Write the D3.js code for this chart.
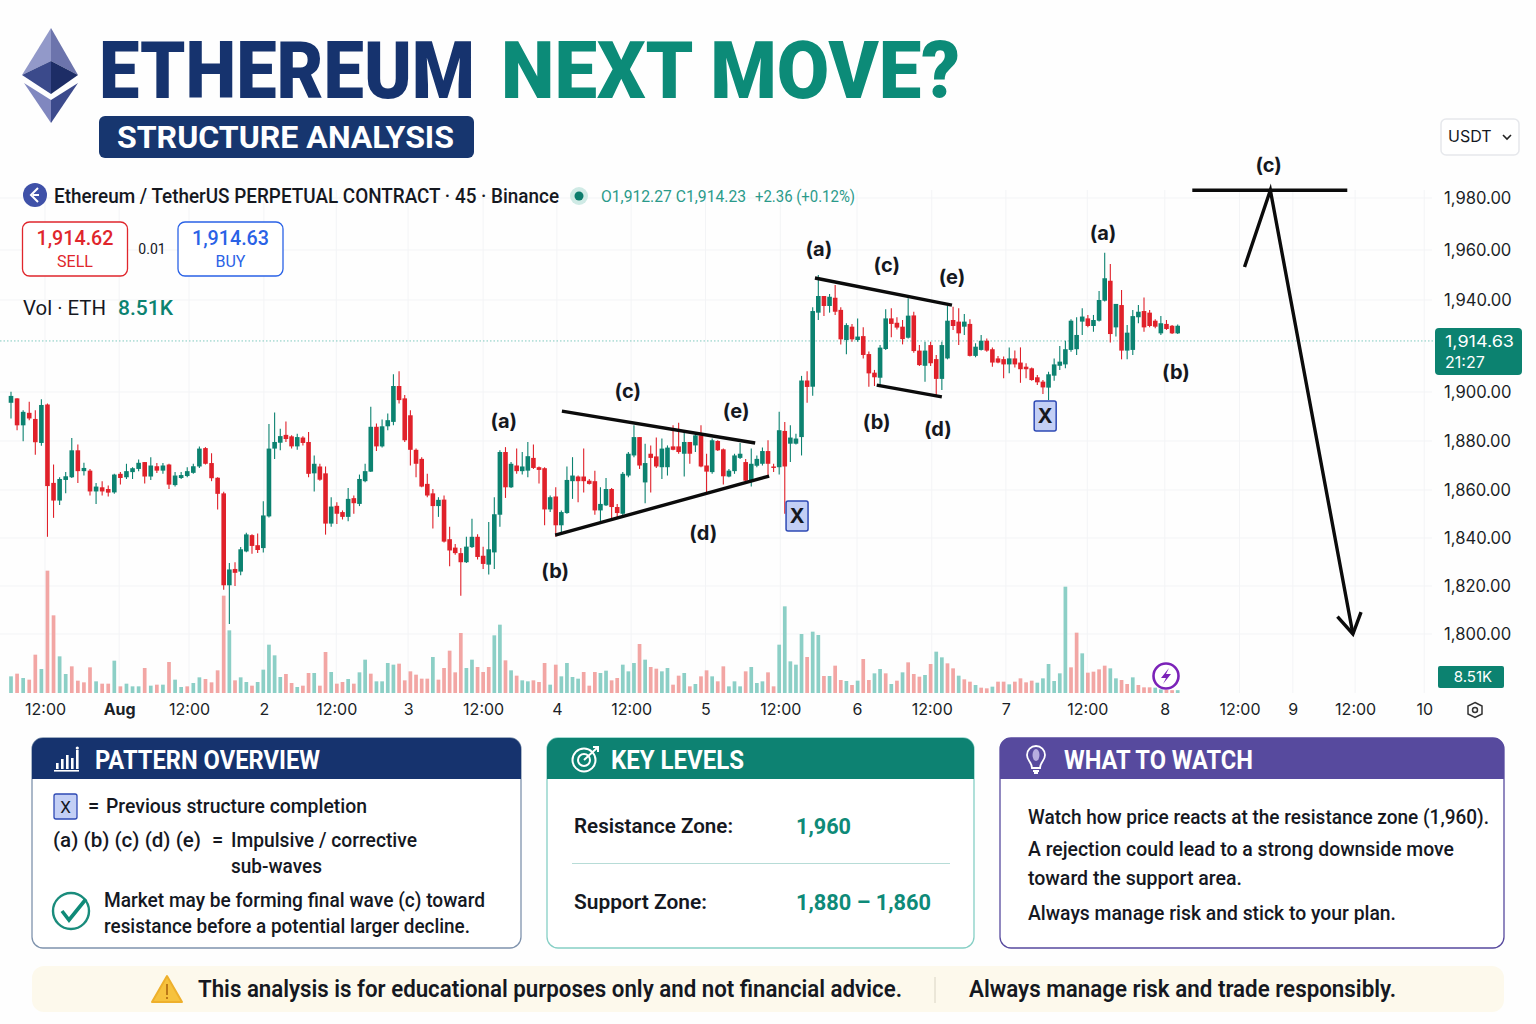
<!DOCTYPE html>
<html>
<head>
<meta charset="utf-8">
<title>Ethereum Next Move?</title>
<script src="https://cdn.jsdelivr.net/npm/d3@7"></script>
<style>
  html, body { margin: 0; padding: 0; background: #fff; }
  svg { display: block; font-family: Roboto, sans-serif; }
</style>
</head>
<body>
<div id="chart"></div>
<script>
// 45 minute candles
const opens = [
  1895.6,1897.4,1886.4,1891.5,1889,1879.2,1894.9,1862.9,1855.6,1864.1,
  1865.2,1876.2,1867.7,1867.9,1859.4,1861.1,1860.4,1859,1866.6,1865.2,
  1867.3,1868.6,1871.4,1865.5,1869.7,1867.9,1870.4,1862,1864.9,1865.7,
  1867,1869.6,1877.1,1871,1865,1858.6,1820.3,1827.1,1826,1834.4,
  1841.2,1837,1835.8,1849,1876.9,1879.3,1882.5,1881.9,1877.8,1881.4,
  1879.6,1866.8,1869.6,1866.8,1846,1853.4,1850.8,1848.8,1856.6,1854.2,
  1863.6,1867.5,1885.8,1877.8,1886,1887.8,1902.6,1897.4,1890.5,1876.4,
  1872.7,1862.5,1858.6,1853.3,1856,1839.5,1836,1833.7,1829.9,1836.2,
  1840.5,1832.6,1828.9,1834,1849.7,1875.5,1861.1,1870,1867.7,1867.9,
  1873.1,1869.3,1868.9,1851.9,1857.3,1845.3,1850.4,1863.6,1865.5,1865.5,
  1863.8,1863.6,1851.5,1853.6,1860.4,1852.9,1850.1,1865.9,1874.1,1881.6,
  1863.1,1874.8,1873.7,1869.3,1869.3,1877.8,1877.8,1874.8,1879.6,1878.2,
  1882.3,1870,1867.3,1880,1876.6,1865.5,1867.7,1873.1,1871.4,1863.6,
  1869.9,1870.7,1875.9,1869.6,1869.3,1884.1,1878.9,1878.9,1881.6,1905,
  1902.3,1934.5,1941.6,1937.4,1940.9,1935.7,1922.6,1928.4,1922.6,1924.3,
  1916.5,1908.4,1906.2,1918.7,1932,1930.1,1928.4,1923.6,1933.3,1918,
  1911.4,1920.4,1914.3,1905.7,1914.6,1931.3,1930.6,1928.4,1929.6,1915.7,
  1918.3,1922.3,1918.6,1914.6,1914.3,1912,1914.6,1912.8,1911,1910.3,
  1906.4,1904.5,1901.9,1907.1,1911.4,1912,1918.3,1918.6,1930.6,1932,
  1928.7,1931,1939.7,1947.7,1928.1,1937.8,1918,1918.3,1932.5,1935.2,
  1934.5,1931,1925.5,1929.6,1928.8,1925.5
];
const highs = [
  1900.1,1897.4,1892.6,1896,1892.6,1897,1895.3,1870.4,1865.2,1867.3,
  1881.2,1878.6,1871.1,1868.6,1862.9,1863.6,1861.8,1866.6,1867.3,1870.7,
  1869.3,1872.4,1871.4,1873.4,1871,1871,1870.7,1867.3,1867.3,1869.3,
  1870.7,1877.8,1877.5,1875,1865.2,1859.3,1829.6,1829.9,1836.2,1842.2,
  1841.6,1841.9,1855.3,1886.9,1891.6,1885,1888,1882.3,1883,1881.9,
  1883.7,1874.1,1870.7,1869.6,1857,1854.9,1851.5,1860.8,1857.7,1866.3,
  1870.7,1894,1887.1,1888.8,1891.2,1907.7,1909,1898.8,1892.6,1876.9,
  1873.4,1866.6,1860.4,1857,1857.7,1844.7,1837.5,1835.8,1840.5,1848,
  1841.6,1836.4,1846.7,1857,1876.2,1877.5,1871.4,1876.9,1875.5,1879.6,
  1878.6,1869.6,1869.3,1857.7,1861.1,1851.5,1869.6,1873.4,1865.9,1876.9,
  1864.5,1867.9,1861.1,1864.9,1860.8,1854.2,1867.3,1875.5,1886.4,1881.6,
  1878.9,1878.2,1881.4,1881,1878.2,1886.4,1887.4,1883.7,1879.6,1883.7,
  1886.4,1874.8,1881,1880.3,1876.9,1868.6,1874.8,1879.2,1872.7,1876.9,
  1874.1,1877.3,1880.3,1870.7,1891.9,1887.8,1886.4,1883,1907,1909,
  1936.8,1950,1941.6,1942.4,1946,1936.8,1929.9,1929.6,1932,1928.1,
  1917.6,1909.6,1920.4,1936,1936.4,1932.5,1931.3,1940.7,1934.9,1920.4,
  1921.9,1921.9,1916.1,1921.9,1937.4,1937.1,1936.4,1933.9,1931.6,1921.2,
  1924.8,1923.3,1919.4,1915.7,1915.4,1919.4,1918,1919.4,1912.5,1910.7,
  1907.4,1905.2,1908.8,1914.6,1920,1922.3,1931.6,1932.5,1936.4,1933.5,
  1933.5,1943.6,1958.9,1954.4,1938.3,1944,1929.1,1935.7,1937.8,1941,
  1935.7,1931.6,1933,1931.3,1929.1,1929.4
];
const lows = [
  1889.2,1884.4,1879.9,1888.5,1874.4,1878.1,1840.5,1848.4,1853.8,1858.6,
  1864.9,1862.9,1865.9,1857.7,1854.2,1857.7,1857.3,1858.4,1862.2,1864.5,
  1864.5,1867.7,1862.7,1864.1,1866.9,1866.6,1860.4,1861.4,1864.5,1865.2,
  1866.6,1869,1870.4,1863.6,1851.9,1818.4,1804.2,1820,1824.5,1834.1,
  1833.4,1833.7,1834,1848.5,1872.7,1876.2,1879.6,1876.9,1876.4,1878.2,
  1865.2,1859.4,1863.8,1841.4,1844.7,1845.8,1847.7,1847,1850.1,1853.3,
  1863.2,1867.3,1875.9,1877.3,1884.4,1886.4,1895.3,1879.6,1870,1865.2,
  1861.1,1857,1844,1848.8,1838.1,1828.2,1833,1815.9,1829.6,1835.8,
  1831,1827.1,1824.8,1827.1,1844.7,1856.7,1860.8,1866.6,1866.3,1865.2,
  1868.6,1862.7,1845.3,1850.8,1840.5,1841.2,1850.1,1856.3,1854.9,1859,
  1862.2,1849.7,1847,1853.3,1848,1848,1849.4,1865.2,1873.4,1868.6,
  1854.5,1859,1869,1864.5,1865.9,1876.2,1874.8,1865.5,1870.7,1875.5,
  1869.3,1859,1866.6,1875.9,1862.2,1865.2,1866.6,1872.7,1863.6,1861.4,
  1869.3,1870,1865.9,1867.3,1866.3,1850.1,1871.4,1878.6,1874.1,1895.6,
  1898.5,1931.3,1933,1934.5,1933.5,1920.7,1916.4,1921.9,1921.9,1914.6,
  1902.3,1902.6,1903,1918.3,1923.8,1927.2,1920.7,1923.3,1917.1,1911.3,
  1904.5,1911.3,1898.5,1900.9,1914.2,1927,1920.4,1924.8,1915.4,1915.1,
  1918,1917.5,1911,1912.5,1906,1908.1,1910.7,1904,1906,1904.9,
  1903,1899.2,1896.7,1904.9,1909.6,1910.3,1917.5,1916.1,1924.8,1928.1,
  1926.2,1930.6,1939.3,1921.5,1924.1,1914.2,1914.2,1916.1,1929.9,1926.2,
  1928.1,1927.7,1924.8,1927,1925.2,1925.2
];
const closes = [
  1898.4,1886.4,1891.9,1889.2,1879.5,1894.7,1861.6,1855.6,1864.5,1865.6,
  1876.2,1867.7,1869,1859.4,1861.4,1859.4,1858.9,1866.3,1864.9,1867.7,
  1868.9,1871.1,1865.5,1870,1867.9,1870,1862.2,1865.9,1866.1,1867.7,
  1869.7,1876.9,1870.7,1864.8,1858.4,1820.3,1826.9,1825.5,1835.3,1841.5,
  1836.7,1835,1849.4,1876.9,1879.6,1882,1880.8,1877.8,1881.6,1879.2,
  1866.6,1870.7,1864.2,1846,1853.1,1850.1,1848.8,1856.3,1854.5,1864.5,
  1867.7,1885.8,1877.8,1886,1888.5,1902.6,1896.7,1880.3,1876.4,1870.7,
  1861.4,1857.7,1853.3,1855.9,1838.5,1834.8,1833.7,1829.9,1836.4,1840.5,
  1832.1,1829.2,1835.3,1849.9,1875.5,1861.1,1870.7,1867.7,1869.6,1873.8,
  1869,1868.2,1851.9,1857,1845.3,1850.8,1864.1,1865.9,1863.6,1863.6,
  1862.5,1851.5,1854.2,1860.4,1852.9,1850.4,1866.6,1874.8,1881.6,1870,
  1871,1873.1,1869.6,1876.9,1877.3,1876.4,1875.5,1879.6,1874.8,1882.3,
  1869.6,1867.5,1880.3,1876.2,1865.6,1867.9,1874.1,1874.8,1863.8,1870.7,
  1872.7,1875.9,1870.7,1869,1884.4,1869.6,1881.4,1881,1905,1902.2,
  1935.2,1941.6,1937.4,1941.3,1934.9,1922.9,1929.1,1922.9,1924.1,1916.1,
  1908.1,1906.4,1919.3,1932,1929.6,1928,1923,1933.2,1917.8,1911.7,
  1918,1912.5,1905.7,1920.4,1931,1928.7,1925.5,1930.6,1915.7,1919.7,
  1922.3,1918,1912.8,1912.8,1912,1914.6,1912,1909.9,1909.9,1905.2,
  1904.2,1902,1907.7,1912,1913.2,1918.6,1931,1924.8,1932.8,1928.7,
  1931.3,1940,1948.7,1925.2,1938.3,1918,1925.8,1933,1934.9,1928.1,
  1928.7,1928.4,1929.9,1927.4,1925.5,1928.8
];
// volume in K, and its side, which does not always follow the candle above it
const volumes = [
  50,58,45,40,115,72,367,233,110,57,
  80,37,32,77,35,28,28,97,20,28,
  20,20,75,22,25,25,93,40,18,20,
  30,47,42,32,68,292,188,38,47,33,
  22,33,70,145,113,48,57,30,18,22,
  60,60,22,123,63,28,33,42,28,62,
  100,58,35,35,90,85,88,38,65,55,
  43,43,108,40,75,127,62,180,75,100,
  78,63,78,173,205,98,68,52,38,35,
  38,33,90,25,85,50,90,48,43,63,
  22,63,60,67,38,45,85,65,90,147,
  100,78,73,65,75,25,52,60,20,27,
  50,68,50,35,80,20,35,20,65,78,
  30,35,62,20,145,260,95,85,177,108,
  184,174,51,51,82,39,36,24,37,102,
  39,59,72,59,27,37,62,92,57,49,
  54,87,124,107,89,74,52,41,34,24,
  16,14,19,34,34,26,34,44,32,37,
  31,44,87,36,59,319,77,181,119,61,
  64,71,82,74,44,39,27,47,24,17,
  17,16,11,9,8.51,8.51
];
const volumeSides = [
  'ududdudduu','dddduddudu','uudududuud','uudddduduu','duuuuuddud','dudduddudu',
  'uduuuudddd','dduddddduu','ddduududuu','ddduduuuud','dduudduuud','udduuddudu',
  'ddudduuudu','uudduuuuud','uududdudud','duudududdd','uduudduddu','ddudd'+'udddd',
  'uuuuuuddud','ddduuddudd','duuddu'
].join('');

const priceTicks = [1980, 1960, 1940, 1900, 1880, 1860, 1840, 1820, 1800];
const timeTickBars = [5.6, 17.8, 29.3, 42.1, 54.9, 67.6, 81, 94.2, 107.5, 120.8, 134.2, 147.9, 161.2, 174.4, 188.9, 202.7, 216, 225.5, 236.6, 248.9];
const timeTickLabels = ['12:00', 'Aug', '12:00', '2', '12:00', '3', '12:00', '4', '12:00', '5', '12:00', '6', '12:00', '7', '12:00', '8', '12:00', '9', '12:00', '10'];
const priceLineLevel = 1922.2;

// wave notes as [bar, price]
const waveLabels = [
  ['(a)', 84.7, 1888.2], ['(b)', 93.9, 1826.3], ['(c)', 106.9, 1900.4], ['(d)', 120.4, 1842.1], ['(e)', 126.3, 1892.2],
  ['(a)', 141.1, 1960.4], ['(b)', 151.4, 1887.8], ['(c)', 153.2, 1954], ['(d)', 162.3, 1884.9], ['(e)', 164.8, 1949.2],
  ['(a)', 191.7, 1966.5], ['(b)', 204.7, 1908.7], ['(c)', 221.2, 1992.7]
];
const trendLines = [
  [[95.1, 1892.2], [129.7, 1879.2]],
  [[93.9, 1841.2], [132.2, 1865.7]],
  [[140.4, 1948.8], [164.8, 1937.8]],
  [[151.4, 1903], [163, 1898]],
  [[207.6, 1983], [235.2, 1983]]
];
const projectionPath = [[216.9, 1953.2], [221.5, 1983], [236.2, 1800]];
const xMarkers = [[137.2, 1849.2], [181.4, 1890.2]];

const TEAL = '#0c8270', RED = '#e0212a', NAVY = '#16336e', PURPLE = '#574a9e';

const svg = d3.select('#chart').append('svg').attr('width', 1536).attr('height', 1024);
svg.append('rect').attr('width', 1536).attr('height', 1024).attr('fill', '#fefefe');

function label(parent, str, x, y, o = {}) {
  const t = parent.append('text').attr('x', x).attr('y', y).text(str)
    .attr('font-size', o.size || 20)
    .attr('font-weight', o.weight || 400)
    .attr('fill', o.fill || '#15181f')
    .attr('text-anchor', o.anchor || 'start');
  if (o.width) t.attr('textLength', o.width).attr('lengthAdjust', 'spacingAndGlyphs');
  if (o.family) t.attr('font-family', o.family);
  return t;
}

// Scales: the candles are not evenly spaced in the picture, so both are piecewise
const xBar = d3.scaleLinear().domain([0, 35, 70, 140, 205]).range([11, 223.7, 421.7, 812.7, 1177.7]);
const yPrice = d3.scaleLinear()
  .domain([1800, 1820, 1840, 1860, 1880, 1900, 1920, 1940, 1960, 1980])
  .range([634, 586, 538, 490, 441, 392, 346, 300, 250, 198]);
const yVol = d3.scaleLinear().domain([0, 400]).range([693, 559.67]);

// Grid
const chartGrid = svg.append('g').attr('stroke', '#f3f4f6').attr('stroke-width', 1);
chartGrid.selectAll('line.h').data(priceTicks).enter().append('line')
  .attr('x1', 0).attr('x2', 1432).attr('y1', d => yPrice(d)).attr('y2', d => yPrice(d));
chartGrid.selectAll('line.v').data(timeTickBars).enter().append('line')
  .attr('x1', d => xBar(d)).attr('x2', d => xBar(d)).attr('y1', 190).attr('y2', 693);

// Volume bars
const bars = opens.map((o, i) => ({ i, o, h: highs[i], l: lows[i], c: closes[i], v: volumes[i], side: volumeSides[i] }));
svg.append('g').selectAll('rect').data(bars).enter().append('rect')
  .attr('x', d => xBar(d.i) - 1.85)
  .attr('width', 3.7)
  .attr('y', d => yVol(d.v))
  .attr('height', d => yVol(0) - yVol(d.v))
  .attr('fill', d => d.side === 'u' ? '#8ccfc6' : '#f2a6a4');

// Price line
svg.append('line').attr('x1', 0).attr('x2', 1436)
  .attr('y1', yPrice(priceLineLevel)).attr('y2', yPrice(priceLineLevel))
  .attr('stroke', '#7fcabf').attr('stroke-width', 1).attr('stroke-dasharray', '1.5 2');

// Candles
const candle = svg.append('g').selectAll('g').data(bars).enter().append('g')
  .attr('fill', d => d.c >= d.o ? TEAL : RED)
  .attr('stroke', d => d.c >= d.o ? TEAL : RED);
candle.append('line')
  .attr('x1', d => xBar(d.i)).attr('x2', d => xBar(d.i))
  .attr('y1', d => yPrice(d.h)).attr('y2', d => yPrice(d.l))
  .attr('stroke-width', 1.1);
candle.append('rect')
  .attr('x', d => xBar(d.i) - 2.3)
  .attr('width', 4.6)
  .attr('y', d => yPrice(Math.max(d.o, d.c)))
  .attr('height', d => Math.max(1, Math.abs(yPrice(d.o) - yPrice(d.c))))
  .attr('stroke', 'none');

// Axes
const yAxis = d3.axisRight(yPrice).tickValues(priceTicks).tickSize(0).tickFormat(d3.format(',.2f'));
const yAxisG = svg.append('g').attr('transform', 'translate(1441,0)').call(yAxis);
yAxisG.select('.domain').remove();
yAxisG.selectAll('text').attr('font-family', 'Inter, sans-serif').attr('font-size', 16.6).attr('fill', '#1b1f27');

const xAxis = d3.axisBottom(xBar).tickValues(timeTickBars).tickSize(0).tickFormat((d, i) => timeTickLabels[i]);
const xAxisG = svg.append('g').attr('transform', 'translate(0,701)').call(xAxis);
xAxisG.select('.domain').remove();
xAxisG.selectAll('text').attr('font-family', 'Inter, sans-serif').attr('font-size', 16).attr('fill', '#1b1f27')
  .attr('font-weight', (d, i) => timeTickLabels[i] === 'Aug' ? 700 : 400);

// Wave drawing
const lineGen = d3.line().x(d => xBar(d[0])).y(d => yPrice(d[1]));
const marks = svg.append('g').attr('fill', 'none').attr('stroke', '#0b0b0b').attr('stroke-width', 3.4);
marks.selectAll('path.trend').data(trendLines).enter().append('path').attr('d', lineGen);
svg.append('defs').append('marker').attr('id', 'arrow')
  .attr('markerUnits', 'userSpaceOnUse').attr('orient', 'auto')
  .attr('markerWidth', 34).attr('markerHeight', 34).attr('refX', 20).attr('refY', 17).attr('overflow', 'visible')
  .append('path').attr('d', 'M0,5 L20,17 L0,29').attr('fill', 'none').attr('stroke', '#0b0b0b').attr('stroke-width', 3.4);
marks.append('path').attr('d', lineGen(projectionPath)).attr('marker-end', 'url(#arrow)');

waveLabels.forEach(([s, b, p]) => {
  label(svg, s, xBar(b), yPrice(p) + 7, { size: 20, weight: 700, anchor: 'middle', family: 'Inter, sans-serif' });
});
xMarkers.forEach(([b, p]) => {
  const cx = xBar(b), cy = yPrice(p);
  svg.append('rect').attr('x', cx - 11).attr('y', cy - 15).attr('width', 22).attr('height', 30).attr('rx', 2)
    .attr('fill', '#c3cff5').attr('stroke', '#2e49b4').attr('stroke-width', 1.5);
  label(svg, 'X', cx, cy + 7, { size: 20, weight: 700, anchor: 'middle', family: 'Inter, sans-serif' });
});

// Title block
const logoParts = [
  ['51,28 22,75 51,61', '#9299c9'], ['51,28 78,75 51,61', '#6c74ac'],
  ['22,75 51,61 51,94', '#3b4a8b'], ['78,75 51,61 51,94', '#1d2d66'],
  ['24,83 51,100 51,123', '#8087bf'], ['78,83 51,100 51,123', '#3c4a8c']
];
svg.append('g').selectAll('polygon').data(logoParts).enter().append('polygon')
  .attr('points', d => d[0]).attr('fill', d => d[1]);
label(svg, 'ETHEREUM', 99, 98, { size: 80, weight: 900, fill: NAVY, width: 376 });
label(svg, 'NEXT MOVE?', 501, 98, { size: 80, weight: 900, fill: '#0c8b78', width: 459 });
svg.append('rect').attr('x', 99).attr('y', 116).attr('width', 375).attr('height', 42).attr('rx', 6).attr('fill', '#17366f');
label(svg, 'STRUCTURE ANALYSIS', 117, 148, { size: 31, weight: 700, fill: '#fff', width: 337 });

// Symbol line
svg.append('circle').attr('cx', 35).attr('cy', 195).attr('r', 12).attr('fill', '#3f51a8');
svg.append('path').attr('d', 'M38,188 L31,195 L38,202 M33,195 L39,195').attr('fill', 'none').attr('stroke', '#fff').attr('stroke-width', 2);
label(svg, 'Ethereum / TetherUS PERPETUAL CONTRACT · 45 · Binance', 54, 203, { size: 20, weight: 500, width: 505 });
svg.append('circle').attr('cx', 579).attr('cy', 196).attr('r', 9).attr('fill', '#cfeae5');
svg.append('circle').attr('cx', 579).attr('cy', 196).attr('r', 4.5).attr('fill', '#0c7c6c');
label(svg, 'O1,912.27 C1,914.23', 601, 202, { size: 16, fill: '#2a9a8a', width: 145 });
label(svg, '+2.36 (+0.12%)', 755, 202, { size: 16, fill: '#2a9a8a', width: 100 });

// Sell and buy boxes
function tradeBox(x, color, price, side) {
  svg.append('rect').attr('x', x).attr('y', 222).attr('width', 105).attr('height', 54).attr('rx', 7)
    .attr('fill', '#fff').attr('stroke', color).attr('stroke-width', 1.3);
  label(svg, price, x + 52.5, 245, { size: 20, weight: 500, fill: color, anchor: 'middle', width: 77 });
  label(svg, side, x + 52.5, 267, { size: 16, fill: color, anchor: 'middle' });
}
tradeBox(22.5, '#e0262c', '1,914.62', 'SELL');
tradeBox(178, '#2a62e6', '1,914.63', 'BUY');
label(svg, '0.01', 152, 254, { size: 14, anchor: 'middle' });
label(svg, 'Vol · ETH', 23, 315, { size: 20, width: 83 });
label(svg, '8.51K', 118, 315, { size: 20, weight: 500, fill: TEAL, width: 55 });

// Right side tags
svg.append('rect').attr('x', 1441).attr('y', 119).attr('width', 78).attr('height', 36).attr('rx', 5)
  .attr('fill', '#fff').attr('stroke', '#e6e8ec').attr('stroke-width', 1.5);
label(svg, 'USDT', 1448, 142, { size: 16, family: 'Inter, sans-serif' });
svg.append('path').attr('d', 'M1503,135 L1507,139 L1511,135').attr('fill', 'none').attr('stroke', '#222').attr('stroke-width', 1.6);

const tagTop = yPrice(priceLineLevel) - 13;
svg.append('rect').attr('x', 1435).attr('y', tagTop).attr('width', 87).attr('height', 47).attr('rx', 4).attr('fill', TEAL);
label(svg, '1,914.63', 1445, tagTop + 19, { size: 16, fill: '#fff', family: 'Inter, sans-serif', width: 69 });
label(svg, '21:27', 1445, tagTop + 40, { size: 16, fill: '#fff', family: 'Inter, sans-serif' });
svg.append('rect').attr('x', 1438).attr('y', 666).attr('width', 66).attr('height', 22).attr('rx', 2).attr('fill', TEAL);
label(svg, '8.51K', 1473, 682, { size: 15, fill: '#fff', anchor: 'middle', family: 'Inter, sans-serif' });

svg.append('circle').attr('cx', 1166).attr('cy', 676).attr('r', 12.5).attr('fill', '#fff').attr('stroke', '#7b22b8').attr('stroke-width', 2.6);
svg.append('path').attr('d', 'M1169,668 L1161,678 L1166,678 L1163,684 L1171,674 L1166,674 Z').attr('fill', '#7b22b8');
svg.append('path').attr('d', 'M1475,702.5 L1482,706 L1482,714 L1475,717.5 L1468,714 L1468,706 Z').attr('fill', 'none').attr('stroke', '#333').attr('stroke-width', 1.5);
svg.append('circle').attr('cx', 1475).attr('cy', 710).attr('r', 2.5).attr('fill', 'none').attr('stroke', '#333').attr('stroke-width', 1.5);

// Info panels
function panel(x, width, color, border, title, titleX, titleWidth) {
  svg.append('rect').attr('x', x).attr('y', 738).attr('width', width).attr('height', 210).attr('rx', 11)
    .attr('fill', '#fff').attr('stroke', border).attr('stroke-width', 1.3);
  svg.append('path')
    .attr('d', `M${x},779 V749 a11,11 0 0 1 11,-11 H${x + width - 11} a11,11 0 0 1 11,11 V779 Z`)
    .attr('fill', color);
  label(svg, title, titleX, 769, { size: 25, weight: 700, fill: '#fff', width: titleWidth });
}
panel(32, 489, NAVY, '#7f93ad', 'PATTERN OVERVIEW', 95, 225);
panel(547, 427, '#0d8272', '#86cfc5', 'KEY LEVELS', 611, 133);
panel(1000, 504, PURPLE, PURPLE, 'WHAT TO WATCH', 1064, 189);

// panel icons
const barIcon = svg.append('g').attr('fill', '#fff');
[[56, 6], [61, 10], [66, 14], [71, 11], [76, 19]].forEach(([x, h]) => {
  barIcon.append('rect').attr('x', x).attr('y', 769 - h).attr('width', 2.6).attr('height', h);
});
barIcon.append('rect').attr('x', 54).attr('y', 770).attr('width', 25).attr('height', 1.6);
barIcon.append('circle').attr('cx', 77.3).attr('cy', 748).attr('r', 1.6);
const targetIcon = svg.append('g').attr('fill', 'none').attr('stroke', '#fff').attr('stroke-width', 2);
targetIcon.append('circle').attr('cx', 584).attr('cy', 760).attr('r', 11.5);
targetIcon.append('circle').attr('cx', 584).attr('cy', 760).attr('r', 6);
targetIcon.append('path').attr('d', 'M584,760 L597,748 M593,747 L598,747 L598,752');
const bulbIcon = svg.append('g').attr('fill', 'none').attr('stroke', '#fff').attr('stroke-width', 1.8);
bulbIcon.append('path').attr('d', 'M1032,768 C1032,762 1027,761 1027,755 A9,9 0 0 1 1045,755 C1045,761 1040,762 1040,768 Z');
bulbIcon.append('path').attr('d', 'M1033,771 H1039 M1034,773 H1038');
svg.append('ellipse').attr('cx', 1036).attr('cy', 755).attr('rx', 3.5).attr('ry', 6).attr('fill', '#b8aee0');

// Pattern overview
svg.append('rect').attr('x', 54).attr('y', 794).attr('width', 23).attr('height', 25).attr('rx', 2)
  .attr('fill', '#c3cff5').attr('stroke', '#2e49b4').attr('stroke-width', 1.3);
label(svg, 'X', 65.5, 813, { size: 17, anchor: 'middle' });
label(svg, '=', 88, 813, { size: 20, weight: 500 });
label(svg, 'Previous structure completion', 106, 813, { size: 20, weight: 500, width: 261 });
label(svg, '(a) (b) (c) (d) (e)', 53, 847, { size: 20, weight: 500, width: 148 });
label(svg, '=', 212, 847, { size: 20, weight: 500 });
label(svg, 'Impulsive / corrective', 231, 847, { size: 20, weight: 500, width: 186 });
label(svg, 'sub-waves', 231, 873, { size: 20, weight: 500, width: 91 });
svg.append('circle').attr('cx', 71).attr('cy', 911).attr('r', 18).attr('fill', 'none').attr('stroke', '#1a8c7c').attr('stroke-width', 2.4);
svg.append('path').attr('d', 'M62,911 L69,920 L86,899').attr('fill', 'none').attr('stroke', '#0f8a78').attr('stroke-width', 3.6);
label(svg, 'Market may be forming final wave (c) toward', 104, 907, { size: 20, weight: 500, width: 381 });
label(svg, 'resistance before a potential larger decline.', 104, 933, { size: 20, weight: 500, width: 366 });

// Key levels
label(svg, 'Resistance Zone:', 574, 833, { size: 20, weight: 600, width: 159 });
label(svg, '1,960', 796, 834, { size: 22, weight: 700, fill: '#0e8a78', width: 55 });
svg.append('line').attr('x1', 572).attr('x2', 950).attr('y1', 863.5).attr('y2', 863.5).attr('stroke', '#b7dcd7');
label(svg, 'Support Zone:', 574, 909, { size: 20, weight: 600, width: 133 });
label(svg, '1,880 – 1,860', 796, 910, { size: 22, weight: 700, fill: '#0e8a78', width: 135 });

// What to watch
label(svg, 'Watch how price reacts at the resistance zone (1,960).', 1028, 824, { size: 20, weight: 500, width: 461 });
label(svg, 'A rejection could lead to a strong downside move', 1028, 856, { size: 20, weight: 500, width: 426 });
label(svg, 'toward the support area.', 1028, 885, { size: 20, weight: 500, width: 214 });
label(svg, 'Always manage risk and stick to your plan.', 1028, 920, { size: 20, weight: 500, width: 368 });

// Disclaimer strip
svg.append('rect').attr('x', 32).attr('y', 966).attr('width', 1472).attr('height', 46).attr('rx', 12).attr('fill', '#fdf9ec');
svg.append('path').attr('d', 'M167,976 L182,1002 L152,1002 Z').attr('fill', '#f6c23e').attr('stroke', '#eeb02c').attr('stroke-width', 2).attr('stroke-linejoin', 'round');
svg.append('path').attr('d', 'M167,984 V995 M167,997 V999').attr('stroke', '#a8620c').attr('stroke-width', 1.5);
label(svg, 'This analysis is for educational purposes only and not financial advice.', 198, 997, { size: 23, weight: 600, width: 704 });
svg.append('line').attr('x1', 935).attr('x2', 935).attr('y1', 977).attr('y2', 1003).attr('stroke', '#d9d4c4');
label(svg, 'Always manage risk and trade responsibly.', 969, 997, { size: 23, weight: 600, width: 427 });
</script>
</body>
</html>
